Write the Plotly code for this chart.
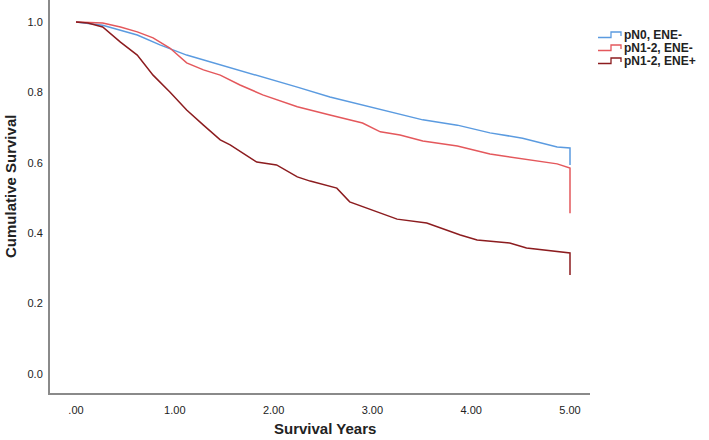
import plotly.graph_objects as go

# ---- data ----
series_names = ["pN0, ENE-", "pN1-2, ENE-", "pN1-2, ENE+"]

time_pn0 = [0, 0.27, 0.62, 0.85, 1.12, 1.39, 1.66, 1.89, 2.24, 2.57, 2.90, 3.18,
            3.51, 3.86, 4.19, 4.52, 4.87, 5.0, 5.0]
surv_pn0 = [1.0, 0.991, 0.963, 0.935, 0.906, 0.884, 0.864, 0.844, 0.815, 0.787, 0.764,
            0.744, 0.722, 0.707, 0.685, 0.670, 0.645, 0.642, 0.594]

time_pn12_neg = [0, 0.27, 0.45, 0.62, 0.78, 0.95, 1.12, 1.29, 1.46, 1.66, 1.89, 2.24,
                 2.57, 2.90, 3.08, 3.28, 3.51, 3.86, 4.19, 4.52, 4.87, 5.0, 5.0]
surv_pn12_neg = [1.0, 0.997, 0.986, 0.972, 0.955, 0.926, 0.884, 0.864, 0.849, 0.821,
                 0.793, 0.759, 0.736, 0.713, 0.688, 0.679, 0.662, 0.648, 0.625, 0.611,
                 0.597, 0.585, 0.457]

time_pn12_pos = [0, 0.12, 0.27, 0.45, 0.62, 0.78, 0.95, 1.12, 1.29, 1.46, 1.56, 1.83,
                 2.03, 2.24, 2.37, 2.64, 2.77, 3.05, 3.25, 3.55, 3.89, 4.06, 4.39, 4.56,
                 4.87, 5.0, 5.0]
surv_pn12_pos = [1.0, 0.997, 0.986, 0.943, 0.906, 0.849, 0.801, 0.750, 0.707, 0.665,
                 0.651, 0.602, 0.594, 0.560, 0.548, 0.528, 0.489, 0.460, 0.440, 0.429,
                 0.395, 0.381, 0.372, 0.358, 0.349, 0.344, 0.281]

x_tickvals = [0, 1, 2, 3, 4, 5]
x_ticktext = [".00", "1.00", "2.00", "3.00", "4.00", "5.00"]
y_tickvals = [0.0, 0.2, 0.4, 0.6, 0.8, 1.0]

colors = ["#5b9be0", "#e4585c", "#8c1c1f"]

# ---- layout geometry (page pixels) ----
W, H = 709, 440
PL, PR, PT, PB = 50, 590, 0, 393          # plot area
ML, MR, MT, MB = PL, W - PR, PT, H - PB
FONT = "Liberation Sans, Arial, sans-serif"

fig = go.Figure()
for t, s, name, c in zip([time_pn0, time_pn12_neg, time_pn12_pos],
                         [surv_pn0, surv_pn12_neg, surv_pn12_pos],
                         series_names, colors):
    fig.add_trace(go.Scatter(x=t, y=s, mode="lines", name=name,
                             line=dict(color=c, width=1.5), showlegend=False))

axis_common = dict(showgrid=False, zeroline=False, showline=True,
                   linecolor="#8a8a8a", linewidth=2, ticks="",
                   tickfont=dict(family=FONT, size=11, color="#222222"))

# y: 1.0 at page y=22, 0.0 at page y=374
ypx_per = 352.0
y_top = 1.0 + (22 - PT) / ypx_per
y_bot = 0.0 - (PB - 374) / ypx_per
# x: 0 at page x=76, 5 at page x=570
xpx_per = (570 - 76) / 5.0
x_left = (PL - 76) / xpx_per
x_right = (PR - 76) / xpx_per

fig.update_xaxes(range=[x_left, x_right], tickvals=x_tickvals, ticktext=x_ticktext,
                 ticklabelstandoff=6, **axis_common)
fig.update_yaxes(range=[y_bot, y_top], tickvals=y_tickvals, tickformat=".1f",
                 ticklabelstandoff=3, **axis_common)


def px2paper(px, py):
    return (px - PL) / (PR - PL), (PB - py) / (PB - PT)


annotations = []
ax_, ay_ = px2paper(325, 428)
annotations.append(dict(text="<b>Survival Years</b>", x=ax_, y=ay_, xref="paper",
                        yref="paper", showarrow=False, xanchor="center",
                        yanchor="middle",
                        font=dict(family=FONT, size=15, color="#222222")))
bx_, by_ = px2paper(10, 187)
annotations.append(dict(text="<b>Cumulative Survival</b>", x=bx_, y=by_,
                        xref="paper", yref="paper", showarrow=False, textangle=-90,
                        xanchor="center", yanchor="middle",
                        font=dict(family=FONT, size=15, color="#222222")))

# manual legend
shapes = []
for i, (name, c) in enumerate(zip(series_names, colors)):
    cy = 35 + 13 * i
    tx, ty = px2paper(622, cy)
    annotations.append(dict(text="<b>" + name + "</b>", x=tx, y=ty, xref="paper",
                            yref="paper", showarrow=False, xanchor="left",
                            yanchor="middle",
                            font=dict(family=FONT, size=12, color="#222222")))
    x0, yl = px2paper(598, cy + 2.5)
    x1, yh = px2paper(611, cy - 3)
    x2, ym = px2paper(621, cy + 1)
    path = f"M {x0},{yl} L {x1},{yl} L {x1},{yh} L {x2},{yh} L {x2},{ym}"
    shapes.append(dict(type="path", path=path, xref="paper", yref="paper",
                       line=dict(color=c, width=1.3)))

fig.update_layout(width=W, height=H, margin=dict(l=ML, r=MR, t=MT, b=MB),
                  paper_bgcolor="white", plot_bgcolor="white",
                  annotations=annotations, shapes=shapes, showlegend=False)

fig.write_html("out.html",
               config={"displayModeBar": False},
               post_script="document.body.style.margin='0';"
                           "document.body.style.overflow='hidden';")
